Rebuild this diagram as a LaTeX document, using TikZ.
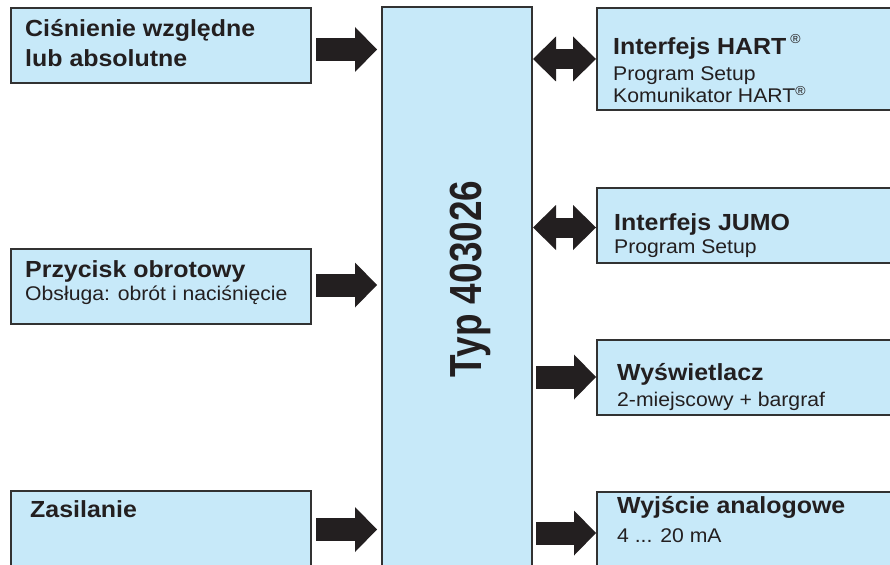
\documentclass[tikz,border=0pt]{standalone}
\usepackage{fontspec}
\setmainfont{Liberation Sans}[FakeStretch=1.07]
\newfontfamily\typfont{Liberation Sans}[FakeStretch=0.82]
\usetikzlibrary{positioning,arrows.meta}
\definecolor{boxfill}{RGB}{199,233,249}
\definecolor{boxline}{RGB}{50,50,50}
\definecolor{ink}{RGB}{35,31,32}
\newcommand{\regmark}[1]{\raisebox{#1}{\fontsize{13}{13}\selectfont\mdseries ®}}

\begin{document}
\begin{tikzpicture}[x=1pt, y=-1pt,
    blok/.style={draw=boxline, fill=boxfill, line width=1.2pt, inner sep=0pt, outer sep=0pt, anchor=north west, minimum height=75pt},
    tytul/.style={anchor=base west, inner sep=0pt, text=ink, font=\bfseries\fontsize{23.3}{26}\selectfont},
    opis/.style={anchor=base west, inner sep=0pt, text=ink, font=\fontsize{19.8}{22}\selectfont},
    strzalka/.style={draw=ink, line width=23pt, -{Triangle[length=22pt, width=45pt, line width=0pt]}},
    strzalka2/.style={draw=ink, line width=20pt, shorten <=1pt, shorten >=1pt,
        {Triangle[length=23pt, width=45pt, line width=0pt]}-{Triangle[length=23pt, width=45pt, line width=0pt]}}
]
    \useasboundingbox (0,0) rectangle (890,564);
    \clip (0,0) rectangle (890,564);

    % Wejscia
    \node[blok, minimum width=300pt] (cisn) at (11,8) {};
    \node[tytul] (cisnA) at (25,37) {Ciśnienie względne};
    \node[tytul] (cisnB) at (25,67) {lub absolutne};

    \node[blok, minimum width=300pt] (przy) at (11,249) {};
    \node[tytul] (przyA) at (25,277) {Przycisk obrotowy};
    \node[opis] (przyB) at (25,300) {Obsługa: obrót i naciśnięcie};

    \node[blok, minimum width=300pt] (zasi) at (11,491) {};
    \node[tytul] (zasiA) at (30,517) {Zasilanie};

    % Przetwornik
    \node[blok, minimum width=150pt, minimum height=600pt] (typ) at (382,7) {};
    \node[rotate=90, anchor=base, inner sep=0pt, text=ink, font=\typfont\bfseries\fontsize{45}{45}\selectfont] (typA) at (481,279) {Typ 403026};

    % Wyjscia
    \node[blok, minimum width=310pt, minimum height=102pt] (hart) at (597,8) {};
    \node[tytul] (hartA) at (613,55) {Interfejs HART\hspace{4pt}\regmark{11pt}};
    \node[opis] (hartB) at (613,81) {Program Setup};
    \node[opis] (hartC) at (613,103) {Komunikator HART\regmark{7pt}};

    \node[blok, minimum width=310pt] (jumo) at (597,188) {};
    \node[tytul] (jumoA) at (614,230) {Interfejs JUMO};
    \node[opis] (jumoB) at (614,253) {Program Setup};

    \node[blok, minimum width=310pt] (wysw) at (597,340) {};
    \node[tytul] (wyswA) at (617,380) {Wyświetlacz};
    \node[opis] (wyswB) at (617,406) {2-miejscowy + bargraf};

    \node[blok, minimum width=310pt] (wyjs) at (597,492) {};
    \node[tytul] (wyjsA) at (617,513) {Wyjście analogowe};
    \node[opis] (wyjsB) at (617,542) {4 ... 20 mA};

    % Strzalki wejsc
    \draw[strzalka, shorten <=5pt, shorten >=5pt] ([yshift=-4pt]cisn.east) -- ([yshift=-4pt]cisn.east -| typ.west);
    \draw[strzalka, shorten <=5pt, shorten >=5pt] ([yshift=1.5pt]przy.east) -- ([yshift=1.5pt]przy.east -| typ.west);
    \draw[strzalka, shorten <=5pt, shorten >=5pt] ([yshift=-1pt]zasi.east) -- ([yshift=-1pt]zasi.east -| typ.west);

    % Strzalki wyjsc
    \draw[strzalka2] (hart.west -| typ.east) -- (hart.west);
    \draw[strzalka2] ([yshift=-2pt]jumo.west -| typ.east) -- ([yshift=-2pt]jumo.west);
    \draw[strzalka, shorten <=4pt, shorten >=1pt] ([yshift=0.5pt]wysw.west -| typ.east) -- ([yshift=0.5pt]wysw.west);
    \draw[strzalka, shorten <=4pt, shorten >=1pt] ([yshift=-3.5pt]wyjs.west -| typ.east) -- ([yshift=-3.5pt]wyjs.west);

\end{tikzpicture}
\end{document}
